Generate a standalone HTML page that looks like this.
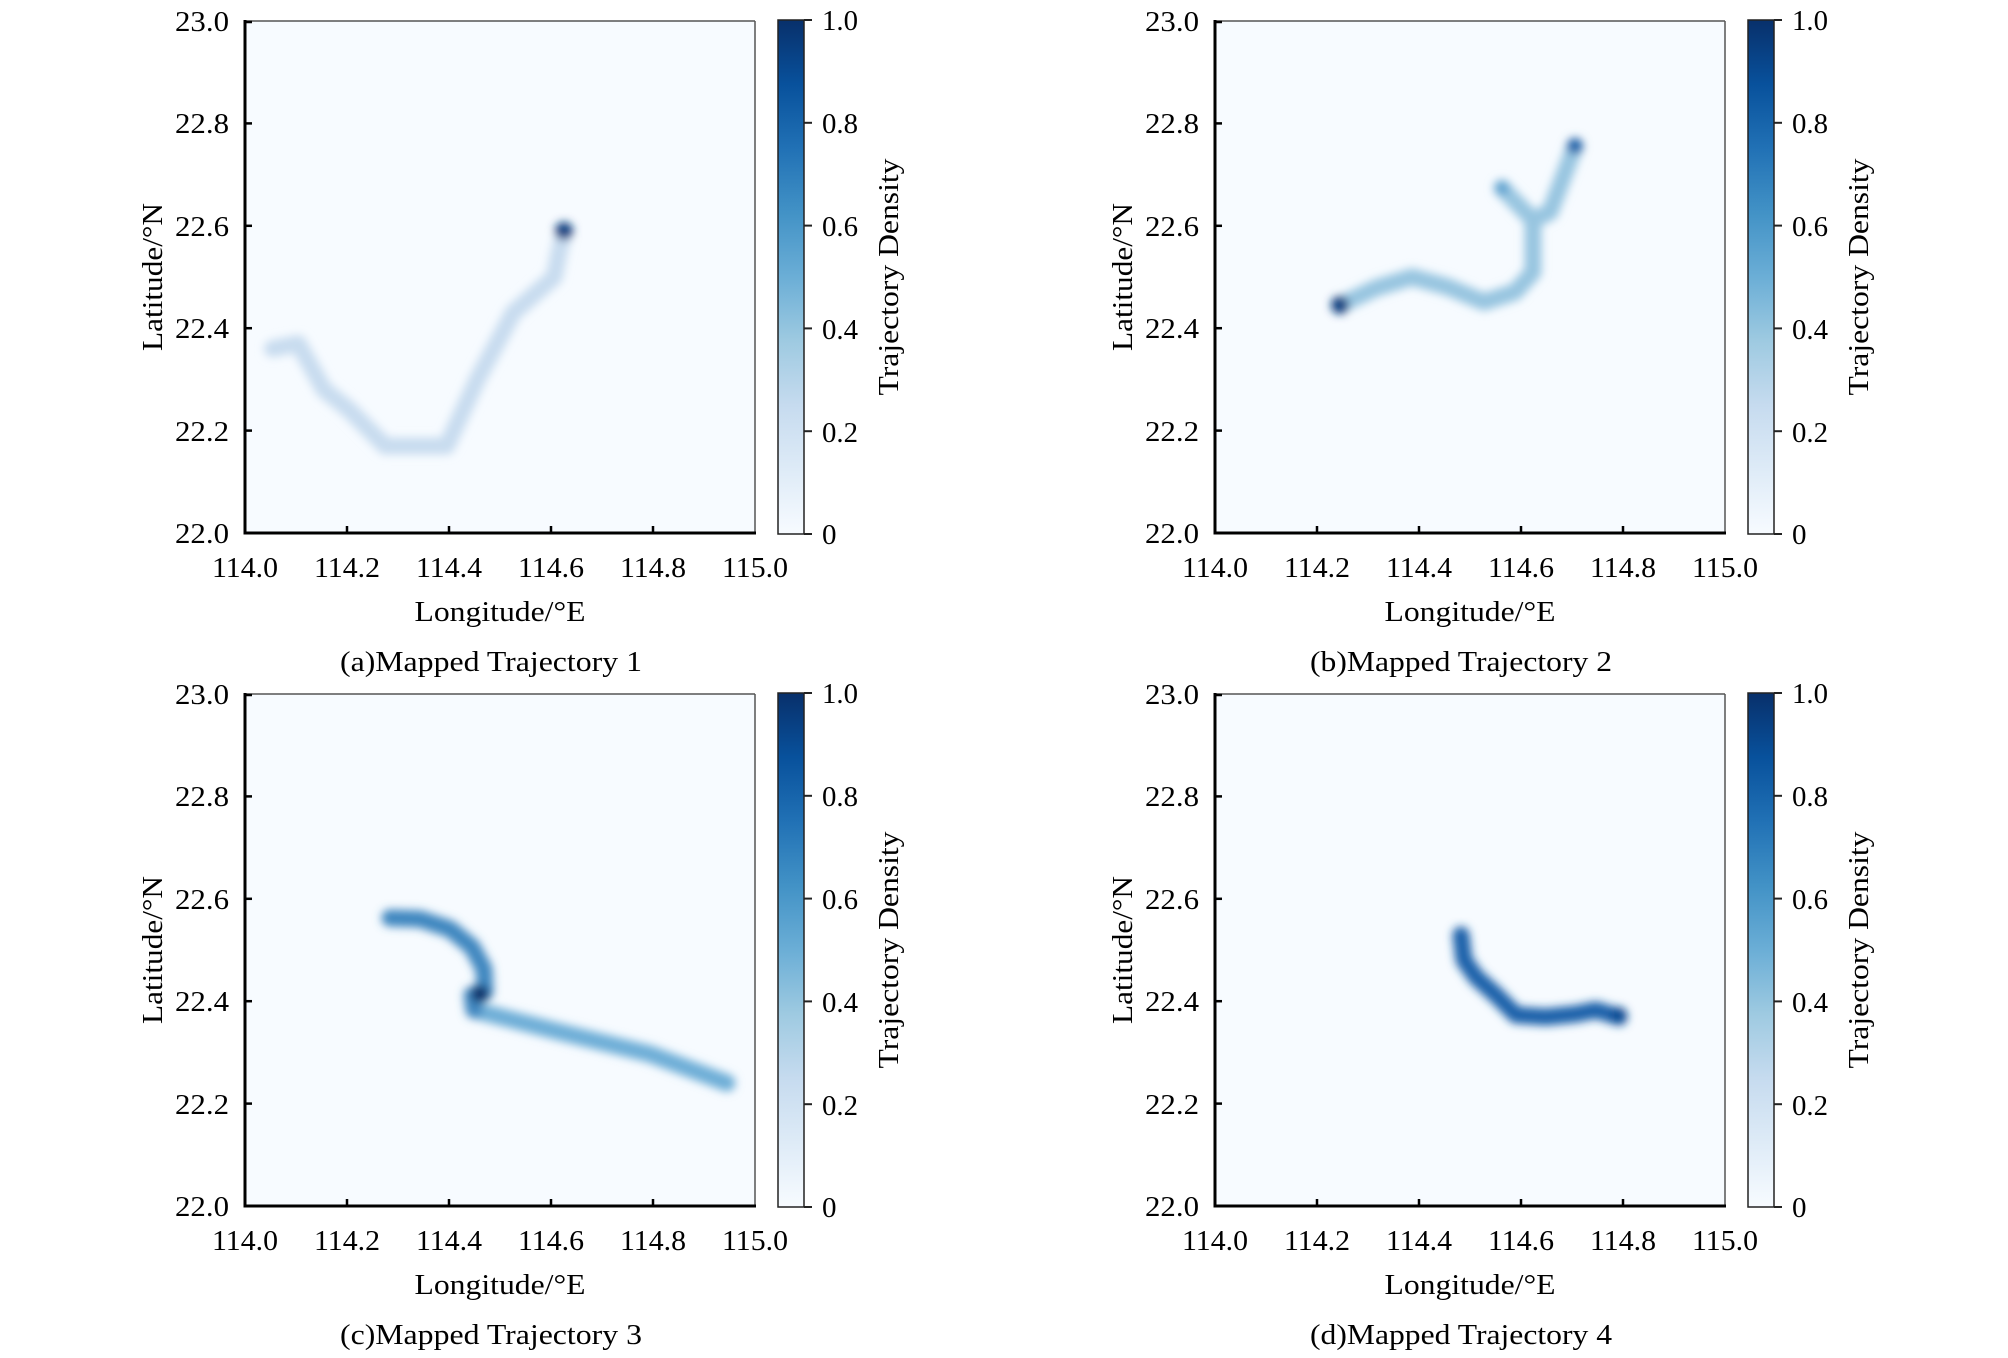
<!DOCTYPE html>
<html><head><meta charset="utf-8"><style>
html,body{margin:0;padding:0;background:#fff;}
svg{display:block;font-family:"Liberation Serif",serif;}
</style></head><body>
<svg width="2008" height="1358" viewBox="0 0 2008 1358" xmlns="http://www.w3.org/2000/svg">
<defs>
<linearGradient id="cb" x1="0" y1="1" x2="0" y2="0">
<stop offset="0" stop-color="#f7fbff"/><stop offset=".125" stop-color="#deebf7"/><stop offset=".25" stop-color="#c6dbef"/><stop offset=".375" stop-color="#9ecae1"/><stop offset=".5" stop-color="#6baed6"/><stop offset=".625" stop-color="#4292c6"/><stop offset=".75" stop-color="#2171b5"/><stop offset=".875" stop-color="#08519c"/><stop offset="1" stop-color="#08306b"/>
</linearGradient>
<filter id="bl" x="-20%" y="-20%" width="140%" height="140%"><feGaussianBlur stdDeviation="4.5"/></filter>
<g id="frame">
<rect x="245" y="21" width="510" height="512" fill="#f7fbff"/>
<line x1="245" y1="21" x2="755" y2="21" stroke="#555" stroke-width="1.5"/>
<line x1="755" y1="21" x2="755" y2="533" stroke="#555" stroke-width="1.5"/>
<line x1="245" y1="20" x2="245" y2="534.5" stroke="#000" stroke-width="3"/>
<line x1="243.5" y1="533" x2="756" y2="533" stroke="#000" stroke-width="3"/>
<g stroke="#000" stroke-width="2.5">
<line x1="347" y1="533" x2="347" y2="526"/><line x1="449" y1="533" x2="449" y2="526"/><line x1="551" y1="533" x2="551" y2="526"/><line x1="653" y1="533" x2="653" y2="526"/>
<line x1="245" y1="22" x2="252" y2="22"/><line x1="245" y1="123.4" x2="252" y2="123.4"/><line x1="245" y1="225.8" x2="252" y2="225.8"/><line x1="245" y1="328.2" x2="252" y2="328.2"/><line x1="245" y1="430.6" x2="252" y2="430.6"/>
</g>
<rect x="778" y="20" width="26" height="514" fill="url(#cb)" stroke="#222" stroke-width="1.5"/>
<g stroke="#222" stroke-width="2">
<line x1="804" y1="20" x2="812" y2="20"/><line x1="804" y1="122.8" x2="812" y2="122.8"/><line x1="804" y1="225.6" x2="812" y2="225.6"/><line x1="804" y1="328.4" x2="812" y2="328.4"/><line x1="804" y1="431.2" x2="812" y2="431.2"/><line x1="804" y1="534" x2="812" y2="534"/>
</g>
<g font-size="29" fill="#000" text-anchor="end">
<text x="229" y="31" textLength="54" lengthAdjust="spacingAndGlyphs">23.0</text><text x="229" y="133" textLength="54" lengthAdjust="spacingAndGlyphs">22.8</text><text x="229" y="236" textLength="54" lengthAdjust="spacingAndGlyphs">22.6</text><text x="229" y="338" textLength="54" lengthAdjust="spacingAndGlyphs">22.4</text><text x="229" y="441" textLength="54" lengthAdjust="spacingAndGlyphs">22.2</text><text x="229" y="543" textLength="54" lengthAdjust="spacingAndGlyphs">22.0</text>
</g>
<g font-size="29" fill="#000" text-anchor="middle">
<text x="245" y="577" textLength="66" lengthAdjust="spacingAndGlyphs">114.0</text><text x="347" y="577" textLength="66" lengthAdjust="spacingAndGlyphs">114.2</text><text x="449" y="577" textLength="66" lengthAdjust="spacingAndGlyphs">114.4</text><text x="551" y="577" textLength="66" lengthAdjust="spacingAndGlyphs">114.6</text><text x="653" y="577" textLength="66" lengthAdjust="spacingAndGlyphs">114.8</text><text x="755" y="577" textLength="66" lengthAdjust="spacingAndGlyphs">115.0</text>
<text x="500" y="621" textLength="171" lengthAdjust="spacingAndGlyphs">Longitude/°E</text>
</g>
<g font-size="29" fill="#000">
<text x="822" y="30" textLength="36" lengthAdjust="spacingAndGlyphs">1.0</text><text x="822" y="133" textLength="36" lengthAdjust="spacingAndGlyphs">0.8</text><text x="822" y="236" textLength="36" lengthAdjust="spacingAndGlyphs">0.6</text><text x="822" y="339" textLength="36" lengthAdjust="spacingAndGlyphs">0.4</text><text x="822" y="442" textLength="36" lengthAdjust="spacingAndGlyphs">0.2</text><text x="822" y="544">0</text>
</g>
<text transform="translate(162,277) rotate(-90)" font-size="29" text-anchor="middle" textLength="148" lengthAdjust="spacingAndGlyphs">Latitude/°N</text>
<text transform="translate(898,277) rotate(-90)" font-size="29" text-anchor="middle" textLength="237" lengthAdjust="spacingAndGlyphs">Trajectory Density</text>
</g>
</defs>

<!-- a -->
<g>
<use href="#frame"/>
<text x="491" y="671" font-size="29" text-anchor="middle" textLength="302" lengthAdjust="spacingAndGlyphs">(a)Mapped Trajectory 1</text>
<g filter="url(#bl)" fill="none" stroke-linecap="round" stroke-linejoin="round">
<polyline points="272.6,348.7 298.2,343.6 324,389.6 349.4,410 385.2,446 446.7,446 477.4,379.4 513.2,312.8 554.2,277 559.3,251.4 564.4,231" stroke="#c8dcef" stroke-width="17"/>
<circle cx="564" cy="231" r="9" fill="#0b3f80" stroke="none"/>
</g>
</g>
<!-- b -->
<g transform="translate(970,0)">
<use href="#frame"/>
<text x="491" y="671" font-size="29" text-anchor="middle" textLength="302" lengthAdjust="spacingAndGlyphs">(b)Mapped Trajectory 2</text>
<g filter="url(#bl)" fill="none" stroke-linecap="round" stroke-linejoin="round">
<polyline points="370,305 406,288 442,277 478,287 514,302 545,292 563,272 563,220 532,188" stroke="#97c5e0" stroke-width="17"/>
<polyline points="563,220 580,212 605,146" stroke="#97c5e0" stroke-width="17"/>
<circle cx="370" cy="305" r="9" fill="#0b3f80" stroke="none"/>
<circle cx="605" cy="146" r="8" fill="#1560a8" stroke="none"/>
<circle cx="532" cy="188" r="7" fill="#5fa3d0" stroke="none"/>
</g>
</g>
<!-- c -->
<g transform="translate(0,673)">
<use href="#frame"/>
<text x="491" y="671" font-size="29" text-anchor="middle" textLength="302" lengthAdjust="spacingAndGlyphs">(c)Mapped Trajectory 3</text>
<g filter="url(#bl)" fill="none" stroke-linecap="round" stroke-linejoin="round">
<polyline points="474,337 560,359 650,381 727,410" stroke="#6eaed7" stroke-width="17"/>
<polyline points="390,245 420,246 450,256 472,274 484,296 485,319 472,322 474,337" stroke="#3f87c0" stroke-width="17"/>
<circle cx="480" cy="321" r="9" fill="#08306b" stroke="none"/>
</g>
</g>
<!-- d -->
<g transform="translate(970,673)">
<use href="#frame"/>
<text x="491" y="671" font-size="29" text-anchor="middle" textLength="302" lengthAdjust="spacingAndGlyphs">(d)Mapped Trajectory 4</text>
<g filter="url(#bl)" fill="none" stroke-linecap="round" stroke-linejoin="round">
<polyline points="491,262 494,287 506,304 526,322 546,342 576,344 606,341 626,337 649,344" stroke="#1d62aa" stroke-width="17"/>
<circle cx="649" cy="342" r="8" fill="#0e4a92" stroke="none"/>
</g>
</g>
</svg>
</body></html>
